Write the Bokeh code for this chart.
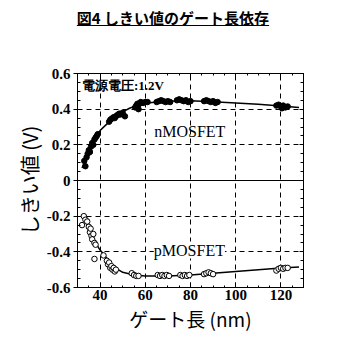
from bokeh.plotting import figure
from bokeh.models import (Range1d, FixedTicker, LinearAxis, Span, Label, Div)
from bokeh.layouts import column
from bokeh.embed import file_html
from bokeh.resources import INLINE

# ---------------- data ----------------
title_text = "図4 しきい値のゲート長依存"
x_label = "ゲート長 (nm)"
y_label = "しきい値 (V)"
note_text = "電源電圧:1.2V"
n_name = "nMOSFET"
p_name = "pMOSFET"

x_ticks = [40, 60, 80, 100, 120]
x_tick_labels = ["40", "60", "80", "100", "120"]
y_ticks = [-0.6, -0.4, -0.2, 0, 0.2, 0.4, 0.6]
y_tick_labels = ["-0.6", "-0.4", "-0.2", "0", "0.2", "0.4", "0.6"]

# nMOSFET measured points (filled)
n_x = [33.5, 33.0, 34.0, 34.5, 35.0, 35.5, 36.0, 36.5, 37.0, 37.5, 38.0, 38.5, 39.0,
       44.0, 44.5, 45.0, 45.5, 46.0, 46.5, 47.0, 47.5, 48.0, 48.5, 49.0, 50.0, 51.0,
       55.5, 56.0, 56.5, 57.0, 57.5, 58.0, 59.0, 60.0, 61.0, 57.0,
       65.0, 66.0, 67.0, 68.0, 69.0, 70.0, 71.0,
       74.0, 75.0, 76.0, 77.0, 78.0, 79.0, 80.0,
       86.0, 87.0, 88.0, 89.0, 90.0, 91.0, 92.0,
       118.0, 119.0, 120.0, 121.0, 122.0, 123.0, 120.5]
n_y = [0.08, 0.11, 0.13, 0.15, 0.17, 0.16, 0.19, 0.21, 0.20, 0.23, 0.24, 0.25, 0.26,
       0.33, 0.34, 0.345, 0.35, 0.355, 0.35, 0.36, 0.365, 0.37, 0.375, 0.37, 0.38, 0.36,
       0.41, 0.42, 0.43, 0.425, 0.435, 0.44, 0.435, 0.44, 0.44, 0.40,
       0.44, 0.445, 0.45, 0.445, 0.44, 0.445, 0.44,
       0.45, 0.455, 0.45, 0.445, 0.45, 0.44, 0.445,
       0.445, 0.45, 0.445, 0.44, 0.445, 0.435, 0.44,
       0.42, 0.425, 0.415, 0.42, 0.41, 0.415, 0.405]

# nMOSFET fitted curve
n_fit_x = [32, 34, 36, 38, 40, 42, 45, 48, 50, 53, 56, 60, 65, 70, 80, 90, 100, 110, 120, 128]
n_fit_y = [0.07, 0.13, 0.19, 0.245, 0.28, 0.305, 0.34, 0.37, 0.385, 0.405, 0.42, 0.433,
           0.44, 0.445, 0.447, 0.442, 0.435, 0.428, 0.418, 0.41]

# pMOSFET measured points (open)
p_x = [32.0, 32.8, 33.5, 34.3, 35.0, 35.5, 35.8, 36.2, 36.5, 37.0, 37.5, 38.0, 37.5,
       41.5, 43.0, 43.5, 44.0, 44.5, 45.0, 45.5, 46.0, 46.5, 47.0,
       54.0, 55.0, 56.0, 57.0,
       65.5, 66.5, 67.5, 68.5, 69.5, 70.5,
       75.5, 76.5, 77.5, 78.5, 79.5,
       86.0, 87.0, 88.0, 89.0, 90.0,
       118.0, 119.0, 120.0, 121.0, 122.0, 123.0]
p_y = [-0.25, -0.20, -0.22, -0.23, -0.26, -0.29, -0.27, -0.31, -0.33, -0.30, -0.35, -0.36, -0.44,
       -0.42, -0.45, -0.47, -0.46, -0.49, -0.48, -0.50, -0.49, -0.51, -0.50,
       -0.52, -0.53, -0.535, -0.535,
       -0.53, -0.535, -0.53, -0.535, -0.53, -0.535,
       -0.53, -0.535, -0.53, -0.535, -0.53,
       -0.525, -0.52, -0.515, -0.52, -0.525,
       -0.505, -0.495, -0.49, -0.495, -0.49, -0.49]

# pMOSFET fitted curve
p_fit_x = [32.5, 34, 36, 38, 40, 42, 45, 48, 50, 55, 60, 70, 80, 90, 100, 110, 120, 128]
p_fit_y = [-0.19, -0.24, -0.30, -0.35, -0.39, -0.42, -0.47, -0.50, -0.515, -0.53, -0.535,
           -0.535, -0.53, -0.52, -0.51, -0.50, -0.49, -0.485]

# ---------------- figure ----------------
serif = "Liberation Serif"
serif_bold = "Times New Roman"
cjk = "Noto Sans CJK JP"

p = figure(width=346, height=298, output_backend="svg", toolbar_location=None,
           x_range=Range1d(30, 130), y_range=Range1d(-0.6, 0.6),
           min_border_left=77, min_border_right=43, min_border_top=33,
           min_border_bottom=51)
p.outline_line_color = "black"
p.outline_line_width = 1
p.background_fill_color = "white"
p.border_fill_color = "white"

x_minor = [v for v in range(30, 131, 5)]
y_minor = [round(-0.6 + 0.05 * i, 2) for i in range(25)]

xt = FixedTicker(ticks=x_ticks, minor_ticks=x_minor)
yt = FixedTicker(ticks=y_ticks, minor_ticks=y_minor)

xa = p.xaxis[0]
xa.ticker = xt
xa.major_label_overrides = {t: l for t, l in zip(x_ticks, x_tick_labels)}
xa.axis_label = x_label
ya = p.yaxis[0]
ya.ticker = yt
ya.major_label_overrides = {t: l for t, l in zip(y_ticks, y_tick_labels)}
ya.axis_label = y_label

for ax in (xa, ya):
    ax.axis_line_color = "black"
    ax.major_tick_line_color = "black"
    ax.minor_tick_line_color = "black"
    ax.major_label_text_font = serif_bold
    ax.major_label_text_font_style = "bold"
    ax.major_label_text_font_size = "15px"
    ax.major_label_text_color = "black"
    ax.axis_label_text_font = cjk
    ax.axis_label_text_font_style = "normal"
    ax.axis_label_text_color = "black"

xa.major_tick_in = 5
xa.major_tick_out = 0
xa.minor_tick_in = 2
xa.minor_tick_out = 0
xa.major_label_standoff = 2
xa.axis_label_text_font_size = "19px"
xa.axis_label_standoff = 2

ya.major_tick_in = 0
ya.major_tick_out = 4
ya.minor_tick_in = 3
ya.minor_tick_out = 0
ya.major_label_standoff = 3
ya.axis_label_text_font_size = "20px"
ya.axis_label_standoff = 0

# mirrored tick axes (right and top), no labels
ra = LinearAxis(ticker=yt, major_label_overrides={t: "" for t in y_ticks},
                major_tick_in=4, major_tick_out=0, minor_tick_in=3, minor_tick_out=0,
                axis_line_color="black", major_label_standoff=0)
ta = LinearAxis(ticker=xt, major_label_overrides={t: "" for t in x_ticks},
                major_tick_in=4, major_tick_out=0, minor_tick_in=2, minor_tick_out=0,
                axis_line_color="black", major_label_standoff=0)
p.add_layout(ra, "right")
p.add_layout(ta, "above")

# grid
p.xgrid.ticker = FixedTicker(ticks=x_ticks)
p.ygrid.ticker = FixedTicker(ticks=[-0.4, -0.2, 0.2, 0.4])
for g in (p.xgrid[0], p.ygrid[0]):
    g.grid_line_color = "black"
    g.grid_line_dash = "5 4"
    g.grid_line_width = 1
p.add_layout(Span(location=0, dimension="width", line_color="black", line_width=1))

# curves and points
p.line(n_fit_x, n_fit_y, line_color="black", line_width=1.5)
p.scatter(n_x, n_y, size=5.5, marker="circle", fill_color="black", line_color="black")
p.line(p_fit_x, p_fit_y, line_color="black", line_width=1.5)
p.scatter(p_x, p_y, size=5.5, marker="circle", fill_color="white", line_color="black",
          line_width=1)

# labels
p.add_layout(Label(x=32.0, y=0.535, text=note_text, text_font=serif_bold,
                   text_font_style="bold", text_font_size="13px",
                   text_baseline="middle", text_align="left", text_color="black"))
p.add_layout(Label(x=79.7, y=0.275, text=n_name, text_font=serif,
                   text_font_size="16px", text_baseline="middle",
                   text_align="center", text_color="black"))
p.add_layout(Label(x=79.5, y=-0.39, text=p_name, text_font=serif,
                   text_font_size="16px", text_baseline="middle",
                   text_align="center", text_color="black",
                   background_fill_color="white"))

title = Div(text=("<div style=\"width:346px;text-align:center;padding-top:9px;"
                  "font-family:'Noto Sans CJK JP';font-weight:bold;font-size:15px;"
                  "text-decoration:underline;color:black;line-height:18px;\">"
                  + title_text + "</div>"),
            width=346, height=40, margin=(0, 0, 0, 0))

layout = column(title, p, spacing=0, margin=(0, 0, 0, 0))

open("out.html", "w").write(file_html(layout, INLINE))
